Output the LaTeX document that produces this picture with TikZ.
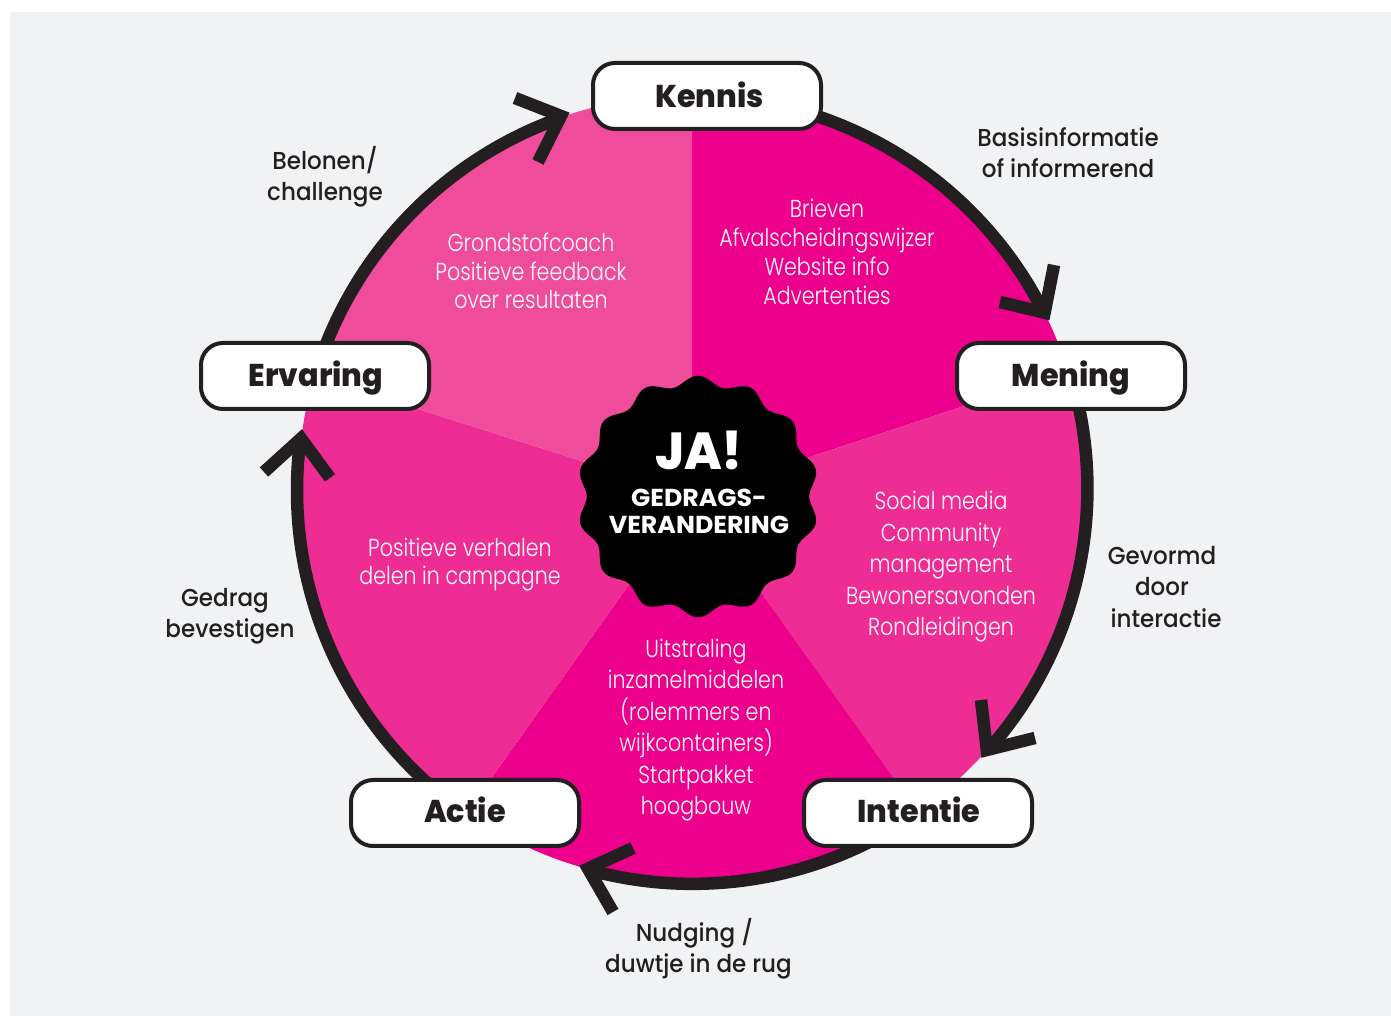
\documentclass[tikz,border=0pt]{standalone}
\usepackage{fontspec}
\setmainfont[FakeStretch=0.84]{Poppins Light}
\newfontfamily\heavyfont[FakeStretch=0.96]{Poppins ExtraBold}
\newfontfamily\badgefont[FakeStretch=1.03]{Poppins Bold}
\newfontfamily\outerfont[FakeStretch=0.94]{Poppins Medium}
\definecolor{bgcol}{HTML}{F1F2F4}
\definecolor{inkcol}{HTML}{231F20}
\definecolor{magA}{HTML}{EC008C}
\definecolor{magB}{HTML}{EE2D94}
\definecolor{magC}{HTML}{EF4C9C}
\tikzset{
  stagebox/.style={draw=inkcol,line width=4pt,fill=white,rounded corners=22pt,minimum width=228pt,minimum height=66pt,inner sep=0pt,text=inkcol,text height=20pt,text depth=0pt,font=\heavyfont\fontsize{31.5}{34}\selectfont},
  ring/.style={draw=inkcol,line width=12.5pt,line cap=butt},
  chevron/.style={draw=inkcol,line width=12.5pt,line join=miter,miter limit=10,line cap=butt},
  innertext/.style={text=white,align=center,inner sep=0pt},
  outertext/.style={text=inkcol,align=center,inner sep=0pt,font=\outerfont\fontsize{24.5}{31.3}\selectfont},
}
\newcommand{\innerfont}[1]{\fontsize{24.5}{#1}\selectfont}
\begin{document}
\begin{tikzpicture}[x=1pt,y=1pt]
\useasboundingbox (0,0) rectangle (1391,1016);
\fill[bgcol] (10,0) rectangle (1391,1004);
\coordinate (c) at (692,527);
\coordinate (apex) at (692,520);
% pie
\begin{scope}
  \clip (c) circle (394pt);
  \fill[magA] (apex) -- (692,1016) -- (1200,1016) -- (1200,688) -- cycle;
  \fill[magB] (apex) -- (1200,688) -- (1207,-200) -- cycle;
  \fill[magA] (apex) -- (1207,-200) -- (180,-200) -- cycle;
  \fill[magB] (apex) -- (180,-200) -- (100,-200) -- (100,708) -- cycle;
  \fill[magC] (apex) -- (100,708) -- (100,1016) -- (692,1016) -- cycle;
\end{scope}
% ring segments, starting under the stage nodes
\coordinate (kstart) at (707,920);
\coordinate (mstart) at (1071,640);
\coordinate (istart) at (918,203);
\coordinate (astart) at (465,203);
\coordinate (estart) at (315,640);
\draw[ring] (kstart) arc[start angle=87.8,end angle=27,radius=394pt];
\draw[ring] (mstart) arc[start angle=16.6,end angle=-41.5,radius=394pt];
\draw[ring] (istart) arc[start angle=-55.1,end angle=-105.3,radius=394pt];
\draw[ring] (astart) arc[start angle=235,end angle=172.6,radius=394pt];
\draw[ring] (estart) arc[start angle=163.3,end angle=109.3,radius=394pt];
% arrow heads
\coordinate (v1) at (1044.6,703.3);
\coordinate (v2) at (986.8,266);
\coordinate (v3) at (588,147.4);
\coordinate (v4) at (301,577.5);
\coordinate (v5) at (561,900);
\draw[chevron] (1054,751) -- (v1) -- (1000,714);
\draw[chevron] (981,316) -- (v2) -- (1035,278);
\draw[chevron] (633,168) -- (v3) -- (613,104);
\draw[chevron] (264,544) -- (v4) -- (330,538);
\draw[chevron] (515,918) -- (v5) -- (538,854);
% stages
\node[stagebox,text height=23pt] (kennis) at (707,920) {\hspace*{5pt}Kennis};
\node[stagebox,text height=21pt] (mening) at (1071,640) {Mening};
\node[stagebox] (intentie) at (918,203) {\hspace*{2pt}Intentie};
\node[stagebox] (actie) at (465,203) {Actie};
\node[stagebox,text height=21pt] (ervaring) at (315,640) {\hspace*{2pt}Ervaring};
% badge
\fill[black] plot[smooth cycle,samples=141,domain=0:357.43] ({698+(116+4.8*cos(14*\x-90*14))*cos(\x)},{519.5+(116+4.8*cos(14*\x-90*14))*sin(\x)});
\node[text=white,inner sep=0pt,font=\heavyfont\fontsize{52}{52}\selectfont] (ja) at (699,566) {JA!};
\node[text=white,inner sep=0pt,align=center,font=\badgefont\fontsize{24.5}{27}\selectfont] (gedrag) at (699,504.5) {GEDRAGS-\\VERANDERING};
% inner texts
\node[innertext,font=\innerfont{29}] (t1) at (827,764) {Brieven\\Afvalscheidingswijzer\\Website info\\Advertenties};
\node[innertext,font=\innerfont{31.5}] (t2) at (941,449) {Social media\\Community\\management\\Bewonersavonden\\Rondleidingen};
\node[innertext,font=\innerfont{31.4}] (t3) at (696,286) {Uitstraling\\inzamelmiddelen\\(rolemmers en\\wijkcontainers)\\Startpakket\\hoogbouw};
\node[innertext,font=\innerfont{28}] (t4) at (460,451) {Positieve verhalen\\delen in campagne};
\node[innertext,font=\innerfont{28.5}] (t5) at (531,745) {Grondstofcoach\\Positieve feedback\\over resultaten};
% outer texts
\node[outertext] (o1) at (1068,863) {Basisinformatie\\of informerend};
\node[outertext] (o2) at (1166,429) {\hspace*{-8pt}Gevormd\\\hspace*{-8pt}door\\interactie};
\node[outertext] (o3) at (698.5,67) {\hspace*{-8pt}Nudging /\\duwtje in de rug};
\node[outertext] (o4) at (230,400) {\hspace*{-10pt}Gedrag\\bevestigen};
\node[outertext] (o5) at (325,839) {Belonen/\\challenge};
\end{tikzpicture}
\end{document}
